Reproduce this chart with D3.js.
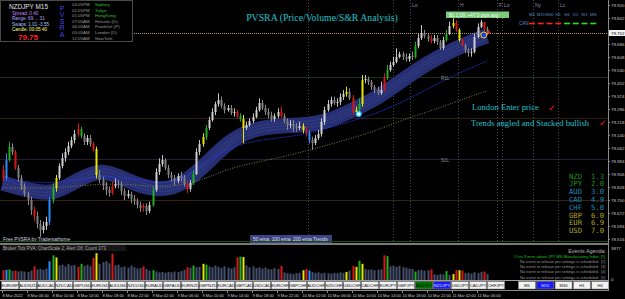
<!DOCTYPE html>
<html lang="en">
<head>
<meta charset="UTF-8">
<title>NZDJPY M15 - PVSRA</title>
<script src="https://d3js.org/d3.v7.min.js"></script>
<style>
  html, body { margin: 0; padding: 0; background: #000; overflow: hidden; }
  svg { display: block; font-family: "Liberation Sans", "DejaVu Sans", sans-serif; }
  .serif { font-family: "Liberation Serif", "DejaVu Serif", serif; }
  .mono { font-family: "DejaVu Sans Mono", "Liberation Mono", monospace; }
</style>
</head>
<body>
<div id="chart"></div>
<script>
// ---- price data (30 min candles, 8 Mar 02:00 -> 11 Mar 07:30) ----
const firstOpen = 78.93;
const closes = [78.882,78.990,79.068,79.038,78.942,78.882,78.834,78.786,78.750,78.690,
  78.654,78.606,78.570,78.594,78.618,78.750,78.822,78.882,78.954,79.002,
  79.038,79.074,79.110,79.146,79.176,79.134,79.098,79.122,79.086,79.056,
  78.900,78.870,78.834,78.810,78.792,78.834,78.846,78.840,78.804,78.774,
  78.786,78.756,78.744,78.720,78.702,78.714,78.684,78.720,78.810,78.918,
  78.966,78.990,78.942,78.900,78.882,78.864,78.894,78.882,78.846,78.816,
  78.852,78.906,79.038,79.086,79.128,79.182,79.230,79.278,79.326,79.350,
  79.314,79.290,79.302,79.272,79.278,79.254,79.236,79.182,79.200,79.224,
  79.248,79.290,79.332,79.302,79.278,79.260,79.236,79.254,79.278,79.254,
  79.224,79.200,79.206,79.188,79.182,79.194,79.170,79.152,79.110,79.092,
  79.122,79.146,79.218,79.290,79.326,79.350,79.332,79.338,79.368,79.386,
  79.398,79.362,79.278,79.290,79.326,79.470,79.476,79.458,79.428,79.410,
  79.392,79.410,79.482,79.530,79.560,79.578,79.608,79.626,79.608,79.596,
  79.614,79.608,79.674,79.722,79.752,79.734,79.716,79.704,79.722,79.698,
  79.662,79.710,79.746,79.794,79.812,79.770,79.710,79.680,79.650,79.632,
  79.638,79.728,79.788,79.818,79.776,79.752];
const highs = [78.96,79.03,79.10,79.09,79.05,78.96,78.90,78.85,78.80,78.77,
  78.71,78.68,78.63,78.62,78.65,78.77,78.85,78.90,78.97,79.03,
  79.06,79.10,79.13,79.17,79.21,79.19,79.15,79.14,79.14,79.10,
  79.07,78.93,78.89,78.86,78.83,78.86,78.88,78.87,78.86,78.82,
  78.81,78.80,78.78,78.76,78.74,78.73,78.73,78.74,78.83,78.94,
  79.00,79.02,79.00,78.96,78.92,78.90,78.91,78.92,78.90,78.86,
  78.87,78.93,79.06,79.11,79.15,79.20,79.25,79.30,79.34,79.39,
  79.37,79.33,79.32,79.32,79.30,79.29,79.27,79.26,79.22,79.24,
  79.27,79.31,79.36,79.35,79.32,79.30,79.28,79.27,79.30,79.31,
  79.27,79.24,79.23,79.23,79.21,79.22,79.21,79.19,79.17,79.13,
  79.14,79.17,79.24,79.31,79.35,79.37,79.37,79.36,79.39,79.41,
  79.43,79.42,79.38,79.31,79.36,79.50,79.50,79.49,79.47,79.44,
  79.43,79.46,79.51,79.56,79.58,79.61,79.66,79.64,79.64,79.63,
  79.63,79.64,79.70,79.75,79.80,79.77,79.75,79.74,79.74,79.74,
  79.71,79.73,79.77,79.82,79.84,79.83,79.78,79.72,79.69,79.66,
  79.66,79.75,79.81,79.83,79.82,79.79];
const lows = [78.86,78.87,78.98,79.02,78.93,78.86,78.81,78.77,78.72,78.66,
  78.62,78.58,78.53,78.55,78.57,78.60,78.73,78.80,78.87,78.94,
  78.98,79.02,79.06,79.09,79.13,79.12,79.08,79.08,79.07,79.04,
  78.88,78.85,78.81,78.78,78.77,78.78,78.82,78.82,78.78,78.75,
  78.76,78.73,78.72,78.70,78.68,78.68,78.66,78.67,78.71,78.80,
  78.90,78.95,78.93,78.88,78.86,78.84,78.85,78.86,78.83,78.79,
  78.80,78.84,78.90,79.02,79.07,79.11,79.17,79.22,79.26,79.31,
  79.30,79.27,79.28,79.26,79.25,79.24,79.22,79.09,79.17,79.19,
  79.21,79.24,79.28,79.29,79.26,79.24,79.22,79.22,79.24,79.24,
  79.21,79.17,79.18,79.16,79.16,79.17,79.15,79.13,79.09,79.05,
  79.08,79.11,79.13,79.20,79.28,79.31,79.32,79.31,79.32,79.35,
  79.37,79.35,79.26,79.26,79.28,79.31,79.45,79.44,79.41,79.39,
  79.38,79.38,79.40,79.47,79.52,79.55,79.57,79.60,79.59,79.58,
  79.58,79.59,79.60,79.66,79.71,79.72,79.70,79.69,79.69,79.68,
  79.65,79.65,79.70,79.74,79.78,79.76,79.70,79.67,79.63,79.61,
  79.61,79.63,79.72,79.78,79.76,79.74];
const volumes = [1150,1200,1250,1050,1100,1000,1050,1000,950,1100,
  1600,1250,1300,1200,1350,2200,2900,2650,1700,1800,
  1600,1900,1700,1750,1550,1900,1650,1800,1600,2600,
  3150,1900,2100,2200,1950,3100,1700,1800,1500,1600,
  1450,1700,1500,1350,1400,1600,1300,1100,1150,1000,
  900,950,850,950,900,1000,950,1050,1200,1500,
  1450,1700,1500,1550,1900,1800,1600,1500,1700,1550,
  1400,1600,1450,1350,1500,2650,2750,2700,1700,1500,
  1600,1400,1500,1350,1450,1300,1250,1400,1300,1650,
  900,800,750,700,800,850,1150,1300,1100,950,
  850,900,800,850,800,750,850,800,900,850,
  950,1100,1650,1550,2250,1900,1300,1200,1250,1150,
  1200,1250,2900,2800,1600,1700,1550,1650,1500,1450,
  1350,1300,1000,1150,1200,1100,1150,1250,650,600,
  700,650,1050,600,700,1150,1150,1100,800,850,
  750,900,800,950,1000,700];

// PVSRA climax / above-average candles (candle index)
const greenBars = [2,16,25,48,61,65,76,114,123,132,142];
const redBars = [0,4,10,24,29,35,45,59,75,89,97,112,122,137,145,147,154];
const blueBars = [1,15,98];
const yellowBars = [17,30,64,77,96,110,113,115,144,146];

// moving averages, sampled at candle index
const emaIdx = [0,8,16,24,32,40,48,56,64,72,80,88,96,104,112,120,128,136,144,152,155];
const ema50 = [78.852,78.810,78.780,78.870,78.942,78.864,78.810,78.822,78.942,79.098,79.176,
  79.194,79.200,79.218,79.290,79.362,79.470,79.572,79.650,79.716,79.734];
const ema100 = [78.870,78.858,78.852,78.870,78.894,78.882,78.858,78.852,78.960,79.062,79.104,
  79.122,79.140,79.182,79.224,79.272,79.338,79.416,79.494,79.560,79.584];
const ema200 = [78.822,78.822,78.822,78.834,78.846,78.846,78.828,78.834,78.870,78.936,78.972,
  79.002,79.038,79.080,79.122,79.170,79.230,79.278,79.332,79.386,79.404];

const pivotLevels = [79.488, 79.242, 78.996, 78.750];
const pivotColors = ["#163416", "#2c1e12", "#261d34", "#362112"];
const bidPrice = 79.752;

const priceTicks = [79.920,79.842,79.764,79.686,79.608,79.530,79.452,79.374,79.296,79.218,
  79.140,79.062,78.984,78.906,78.828,78.750,78.672,78.594,78.516];
const timeLabels = ["8 Mar 2022","8 Mar 06:00","8 Mar 10:00","8 Mar 14:00","8 Mar 18:00",
  "8 Mar 22:00","9 Mar 02:00","9 Mar 06:00","9 Mar 10:00","9 Mar 14:00","9 Mar 18:00",
  "9 Mar 22:00","10 Mar 02:00","10 Mar 06:00","10 Mar 10:00","10 Mar 14:00","10 Mar 18:00",
  "10 Mar 22:00","11 Mar 02:00","11 Mar 06:00"];

const sessionIdx = [97.75, 125, 130.4, 145.75, 158.25, 159.85, 169.75, 177.75];
const sessionNames = ["", "", "Lo", "H", "F", "Lo", "Ny", "Lc"];

const pairs = ["EURGBP","AUDNZD","AUDCAD","NZDCAD","GBPUSD","EURUSD","AUDUSD","NZDUSD",
  "EURAUD","GBPAUD","EURNZD","GBPNZD","EURCAD","GBPCAD","USDCAD","EURCHF","GBPCHF",
  "AUDCHF","NZDCHF","USDCHF","CADCHF","EURJPY","GBPJPY","AUDJPY","NZDJPY","USDJPY",
  "CADJPY","CHFJPY"];
const timeframes = ["M5","M15","M30","H1","H4"];
const trendFrames = ["M5","M15","M30","H1","H4","D1","W1","MN"];
const trendUp = [false,false,false,false,true,true,true,true];

const currencies = ["NZD","JPY","AUD","CAD","CHF","GBP","EUR","USD"];
const strength = [1.3,2.0,3.0,4.9,5.0,6.0,6.9,7.0];

const sessionClocks = ["04:05PM","02:05PM","01:05PM","07:05AM","06:05AM","05:05AM","12:05AM"];
const sessionCities = ["Sydney","Tokyo","HongKong","Helsinki (D)","Frankfurt (P)","London (D)","NewYork"];
const events = ["5 hrs 9 mins above JPY BSI Manufacturing Index",
  "No event or release per settings is scheduled.",
  "No event or release per settings is scheduled.",
  "No event or release per settings is scheduled.",
  "No event or release per settings is scheduled."];

// ---- layout ----
const W = 625, H = 299;
const plotRight = 608, mainBottom = 243;
const subBottom = 280;

const svg = d3.select("#chart").append("svg")
  .attr("width", W).attr("height", H);
svg.append("rect").attr("width", W).attr("height", H).attr("fill", "#000");

const x = d3.scaleLinear().domain([0, 155]).range([2.5, 486.875]);
const y = d3.scaleLinear().domain([78.492, 79.95]).range([243, 0]);
const yv = d3.scaleLinear().domain([0, 3877]).range([subBottom, 247]);

const candles = closes.map((c, i) => ({
  i, o: i === 0 ? firstOpen : closes[i - 1], h: highs[i], l: lows[i], c, v: volumes[i]
}));
function barColor(i) {
  if (greenBars.includes(i)) return "#1fae1f";
  if (redBars.includes(i)) return "#d81818";
  if (blueBars.includes(i)) return "#2a8cff";
  if (yellowBars.includes(i)) return "#e6e600";
  return null;
}

const main = svg.append("g");

// pivot levels
main.selectAll("line.pivot").data(pivotLevels).join("line")
  .attr("x1", 0).attr("x2", plotRight)
  .attr("y1", d => Math.round(y(d)) + 0.5).attr("y2", d => Math.round(y(d)) + 0.5)
  .attr("stroke", (d, i) => pivotColors[i]).attr("stroke-width", 1);

// session separators
main.selectAll("line.sess").data(sessionIdx).join("line")
  .attr("x1", d => Math.round(x(d)) + 0.5).attr("x2", d => Math.round(x(d)) + 0.5)
  .attr("y1", 0).attr("y2", mainBottom)
  .attr("stroke", "#4a4a4a").attr("stroke-dasharray", "1,2");
main.selectAll("text.sess").data(sessionIdx).join("text")
  .attr("x", d => x(d) + 2).attr("y", 6.5)
  .attr("font-size", 5).attr("fill", "#8a8aa0")
  .text((d, i) => sessionNames[i]);

// moving averages
const maLine = vals => d3.line()
  .x((d, k) => x(emaIdx[k])).y(d => y(d)).curve(d3.curveBasis)(vals);

main.append("path").attr("d", maLine(ema50)).attr("fill", "none")
  .attr("stroke", "#262e74").attr("stroke-width", 15);
[-3, 3].forEach(off => {
  main.append("path").attr("d", maLine(ema50)).attr("fill", "none")
    .attr("transform", `translate(0,${off})`)
    .attr("stroke", "#454c88").attr("stroke-width", 0.5);
});
main.append("path").attr("d", maLine(ema50)).attr("fill", "none")
  .attr("stroke", "#7278b0").attr("stroke-width", 0.5).attr("stroke-dasharray", "1,1.5");
main.append("path").attr("d", maLine(ema100)).attr("fill", "none")
  .attr("stroke", "#2a3cff").attr("stroke-width", 1).attr("stroke-dasharray", "1,1");
main.append("path").attr("d", maLine(ema200)).attr("fill", "none")
  .attr("stroke", "#7e7c48").attr("stroke-width", 1).attr("stroke-dasharray", "1,1.5");

// candles
const cg = main.selectAll("g.candle").data(candles).join("g");
cg.append("line")
  .attr("x1", d => Math.round(x(d.i)) + 0.5).attr("x2", d => Math.round(x(d.i)) + 0.5)
  .attr("y1", d => y(d.h)).attr("y2", d => y(d.l))
  .attr("stroke", d => barColor(d.i) || (d.c >= d.o ? "#c4c4c4" : "#8c8c8c"))
  .attr("stroke-width", 1);
cg.append("rect")
  .attr("x", d => Math.round(x(d.i)) - 0.5).attr("width", 2)
  .attr("y", d => y(Math.max(d.o, d.c)))
  .attr("height", d => Math.max(1, Math.abs(y(d.o) - y(d.c))))
  .attr("fill", d => barColor(d.i) || (d.c >= d.o ? "#d0d0d0" : "#7e7e7e"));

// bid line
main.append("line").attr("x1", 0).attr("x2", plotRight)
  .attr("y1", Math.round(y(bidPrice)) + 0.5).attr("y2", Math.round(y(bidPrice)) + 0.5)
  .attr("stroke", "#a89878").attr("stroke-dasharray", "1,1");

// signal markers
main.append("circle").attr("cx", x(114)).attr("cy", y(79.266)).attr("r", 2.4)
  .attr("fill", "#e8ffff").attr("stroke", "#20c8ff").attr("stroke-width", 1.2);
main.append("circle").attr("cx", x(154)).attr("cy", y(79.74)).attr("r", 3)
  .attr("fill", "#1a3cff").attr("stroke", "#ffd200").attr("stroke-width", 1);
main.append("circle").attr("cx", x(155) + 2).attr("cy", y(79.756)).attr("r", 1.4)
  .attr("fill", "#ff2020");

// level tags
main.append("text").attr("x", 441).attr("y", 80).attr("font-size", 4.5)
  .attr("fill", "#909090").text("R1L");
main.append("text").attr("x", 441).attr("y", 162).attr("font-size", 4.5)
  .attr("fill", "#909090").text("S1L");

// title and notes
main.append("text").attr("class", "serif").attr("x", 322).attr("y", 21)
  .attr("text-anchor", "middle").attr("font-size", 9.8).attr("fill", "#22c0c8")
  .text("PVSRA (Price/Volume/S&R Analysis)");
main.append("text").attr("class", "serif").attr("x", 472).attr("y", 110)
  .attr("font-size", 8.6).attr("fill", "#22c0c8").text("London Enter price");
main.append("text").attr("class", "serif").attr("x", 471).attr("y", 126)
  .attr("font-size", 8.6).attr("fill", "#22c0c8").text("Trends angled and Stacked bullish");
[[548, 111], [599, 126]].forEach(p => {
  main.append("text").attr("x", p[0]).attr("y", p[1]).attr("font-size", 9)
    .attr("fill", "#ff1a1a").text("\u2713");
});

// spread / pips box
main.append("rect").attr("x", 446).attr("y", 11.5).attr("width", 63).attr("height", 6.5)
  .attr("fill", "#7cc87c");
main.append("text").attr("x", 449).attr("y", 16.6).attr("font-size", 4.7)
  .attr("fill", "#f0fff0").text("BL 1.09,  +47.0 pips avg");

// multi timeframe trend row
trendFrames.forEach((tf, i) => {
  const cx = 532 + i * 8.75;
  main.append("text").attr("x", cx).attr("y", 16).attr("text-anchor", "middle")
    .attr("font-size", 4.2).attr("fill", "#5a8ac0").text(tf);
  main.append("line").attr("x1", cx - 3).attr("x2", cx + 3).attr("y1", 23.5).attr("y2", 23.5)
    .attr("stroke", trendUp[i] ? "#22e022" : "#ff2020").attr("stroke-width", 1.6);
});
main.append("text").attr("x", 519).attr("y", 25).attr("font-size", 4.5)
  .attr("fill", "#5a8ac0").text("CAN");

// currency strength
currencies.forEach((c, i) => {
  const col = i < 2 ? "#1f8f1f" : i < 5 ? "#1f8ab8" : "#a8a820";
  const ty = 178.5 + i * 7.8;
  main.append("text").attr("class", "mono").attr("x", 569).attr("y", ty)
    .attr("font-size", 7.2).attr("fill", col).text(c);
  main.append("text").attr("class", "mono").attr("x", 591).attr("y", ty)
    .attr("font-size", 7.2).attr("fill", col).text(strength[i].toFixed(1));
});

// bottom tags of main window
main.append("text").attr("x", 3).attr("y", 240.5).attr("font-size", 4.8)
  .attr("fill", "#d0d0e0").text("Free PVSRA by Tradersathome");
main.append("rect").attr("x", 250).attr("y", 235).attr("width", 82).attr("height", 8)
  .attr("fill", "#3c4482");
main.append("text").attr("x", 253).attr("y", 240.8).attr("font-size", 4.8)
  .attr("fill", "#dcdcf4").text("50 ema, 100 ema, 200 ema Trends");

// ---- info box (top left) ----
const info = svg.append("g");
info.append("rect").attr("x", 0.5).attr("y", 0.5).attr("width", 132).attr("height", 41)
  .attr("fill", "#000").attr("stroke", "#4a4a4a");
info.append("text").attr("x", 9).attr("y", 8.5).attr("font-size", 6.4)
  .attr("fill", "#e0e0e0").text("NZDJPY  M15");
const infoRows = [["Spread: 0.40", "#d080ff"], ["Range: 69 ... 31", "#b8a8ff"],
  ["Swaps: 1.01  -3.55", "#a8c4ff"], ["Candle: 00:05:40", "#ffff80"]];
infoRows.forEach((r, i) => {
  info.append("text").attr("x", 12).attr("y", 15 + i * 5.3).attr("font-size", 4.6)
    .attr("fill", r[1]).text(r[0]);
});
info.append("text").attr("x", 18).attr("y", 39.5).attr("font-size", 8)
  .attr("font-weight", "bold").attr("fill", "#ff2222").text("79.75");
"PVSRA".split("").forEach((ch, i) => {
  info.append("text").attr("x", 62).attr("y", 10.5 + i * 6.6).attr("text-anchor", "middle")
    .attr("font-size", 7).attr("fill", "#4646e6").text(ch);
});
sessionClocks.forEach((t, i) => {
  const ty = 6.2 + i * 5.55;
  info.append("text").attr("x", 72).attr("y", ty).attr("font-size", 4.4)
    .attr("fill", "#9a9a9a").text(t);
  info.append("text").attr("x", 95).attr("y", ty).attr("font-size", 4.4)
    .attr("fill", i < 3 ? "#30c030" : "#9a9a9a").text(sessionCities[i]);
});

// ---- right price axis ----
const axisG = svg.append("g");
const shownTicks = priceTicks.filter(t => Math.abs(y(t) - y(bidPrice)) > 5);
axisG.append("line").attr("x1", plotRight + 0.5).attr("x2", plotRight + 0.5)
  .attr("y1", 0).attr("y2", 290).attr("stroke", "#8a8a8a");
axisG.selectAll("line.tick").data(priceTicks).join("line")
  .attr("x1", plotRight).attr("x2", plotRight + 2)
  .attr("y1", d => Math.round(y(d)) + 0.5).attr("y2", d => Math.round(y(d)) + 0.5)
  .attr("stroke", "#8a8a8a");
axisG.selectAll("text.tick").data(shownTicks).join("text")
  .attr("x", 611).attr("y", d => y(d) + 1.6).attr("font-size", 4.4)
  .attr("fill", "#c8c8c8").text(d => d.toFixed(3));
axisG.append("rect").attr("x", 609).attr("y", y(bidPrice) - 3).attr("width", 16).attr("height", 6)
  .attr("fill", "#f4f4f4");
axisG.append("text").attr("x", 611).attr("y", y(bidPrice) + 1.6).attr("font-size", 4.4)
  .attr("fill", "#000").text(bidPrice.toFixed(3));

// ---- volume sub window ----
const sub = svg.append("g");
sub.append("line").attr("x1", 0).attr("x2", plotRight).attr("y1", 241.5).attr("y2", 241.5)
  .attr("stroke", "#1c4a1c");
sub.append("rect").attr("x", 0).attr("y", 243).attr("width", plotRight).attr("height", 2)
  .attr("fill", "#7a7a7a");
sub.selectAll("rect.vol").data(candles).join("rect")
  .attr("x", d => Math.round(x(d.i)) - 0.5).attr("width", 2)
  .attr("y", d => yv(d.v)).attr("height", d => subBottom - yv(d.v))
  .attr("fill", d => barColor(d.i) || "#46506e");
sub.append("rect").attr("x", 2).attr("y", 245).attr("width", 124).attr("height", 6)
  .attr("fill", "#161616");
sub.append("text").attr("x", 3).attr("y", 249.6).attr("font-size", 4.5)
  .attr("fill", "#a8a8a8").text("Broker Tick PVA:   ChartScale 2, Alert Off, Count 373");
sub.append("text").attr("x", 611).attr("y", 249.5).attr("font-size", 4.4)
  .attr("fill", "#c8c8c8").text("3877");
sub.append("text").attr("x", 611).attr("y", 281).attr("font-size", 4.4)
  .attr("fill", "#c8c8c8").text("0");
sub.append("line").attr("x1", 0).attr("x2", plotRight).attr("y1", 280.5).attr("y2", 280.5)
  .attr("stroke", "#9a9a9a");

// events agenda
sub.append("text").attr("x", 606).attr("y", 253).attr("text-anchor", "end")
  .attr("font-size", 5.4).attr("fill", "#b4b4b4").text("Events Agenda:");
events.forEach((e, i) => {
  const ty = 257.8 + i * 5.2;
  sub.append("text").attr("x", 599).attr("y", ty).attr("text-anchor", "end")
    .attr("font-size", 3.9).attr("fill", i === 0 ? "#22c022" : "#9a9a9a").text(e);
  sub.append("text").attr("x", 601).attr("y", ty).attr("font-size", 3.9)
    .attr("fill", i === 0 ? "#22c022" : "#9a9a9a").text(`[${i + 1}]`);
});

// pair buttons
const btn = svg.append("g");
pairs.forEach((p, i) => {
  const bx = 1 + i * 18;
  const fill = p === "AUDJPY" ? "#007000" : p === "NZDJPY" ? "#1a1aff" : "#f2f2f2";
  const tc = p === "NZDJPY" ? "#d8e0ff" : "#111";
  btn.append("rect").attr("x", bx + 0.5).attr("y", 281.5).attr("width", 17).attr("height", 7.5)
    .attr("fill", fill).attr("stroke", "#8a8a8a").attr("stroke-width", 0.6);
  btn.append("text").attr("x", bx + 9).attr("y", 286.9).attr("text-anchor", "middle")
    .attr("font-size", 4.2).attr("fill", tc).text(p);
});
timeframes.forEach((tf, i) => {
  const bx = 518 + i * 18.3;
  btn.append("rect").attr("x", bx + 0.5).attr("y", 281.5).attr("width", 17).attr("height", 7.5)
    .attr("fill", tf === "M15" ? "#1a1aff" : "#f2f2f2").attr("stroke", "#8a8a8a").attr("stroke-width", 0.6);
  btn.append("text").attr("x", bx + 9).attr("y", 286.9).attr("text-anchor", "middle")
    .attr("font-size", 4.2).attr("fill", tf === "M15" ? "#d8e0ff" : "#111").text(tf);
});

// time axis
const tAxis = svg.append("g");
tAxis.append("line").attr("x1", 0).attr("x2", plotRight + 1).attr("y1", 290.5).attr("y2", 290.5)
  .attr("stroke", "#8a8a8a");
tAxis.selectAll("line.tt").data(timeLabels).join("line")
  .attr("x1", (d, i) => Math.round(x(i * 8)) - 0.5).attr("x2", (d, i) => Math.round(x(i * 8)) - 0.5)
  .attr("y1", 290).attr("y2", 293).attr("stroke", "#8a8a8a");
tAxis.selectAll("text.tt").data(timeLabels).join("text")
  .attr("x", (d, i) => x(i * 8)).attr("y", 296.5).attr("font-size", 4)
  .attr("fill", "#d0d0d0").text(d => d);
</script>
</body>
</html>
